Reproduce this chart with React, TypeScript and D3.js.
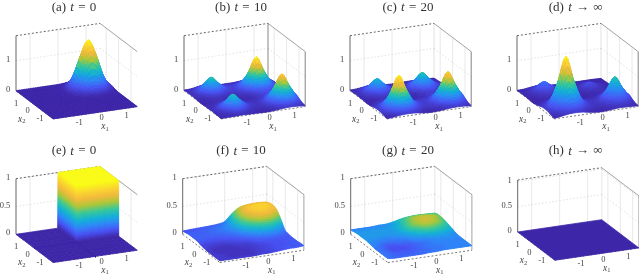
import React from 'react'
import * as d3 from 'd3'

// axis coordinates of the grids, rows run from x2 = 1.5 down to x2 = -1.5
const gridX1 = [-1.5, -1.25, -1, -0.75, -0.5, -0.25, 0, 0.25, 0.5, 0.75, 1, 1.25, 1.5]
const gridX2 = [1.5, 1.25, 1, 0.75, 0.5, 0.25, 0, -0.25, -0.5, -0.75, -1, -1.25, -1.5]
const blockX1 = [-1.5, -0.01, 0, 1.5]
const blockX2 = [1.5, 0, -0.01, -1.5]
const flatX = [-1.5, 1.5]
const axisTicks = [-1, 0, 1]

const surfaceA = [
  [0, 0, 0, 0, 0, 0, 0, .02, .05, .07, .05, .02, 0],
  [0, 0, 0, 0, 0, 0, .02, .10, .29, .40, .29, .10, .02],
  [0, 0, 0, 0, 0, .01, .05, .29, .81, 1.15, .81, .29, .05],
  [0, 0, 0, 0, 0, .01, .07, .40, 1.15, 1.62, 1.15, .40, .07],
  [0, 0, 0, 0, 0, .01, .05, .29, .81, 1.15, .81, .29, .05],
  [0, 0, 0, 0, 0, 0, .02, .10, .29, .40, .29, .10, .02],
  [0, 0, 0, 0, 0, 0, 0, .02, .05, .07, .05, .02, 0],
  [0, 0, 0, 0, 0, 0, 0, 0, 0, .01, 0, 0, 0],
  [0, 0, 0, 0, 0, 0, 0, 0, 0, 0, 0, 0, 0],
  [0, 0, 0, 0, 0, 0, 0, 0, 0, 0, 0, 0, 0],
  [0, 0, 0, 0, 0, 0, 0, 0, 0, 0, 0, 0, 0],
  [0, 0, 0, 0, 0, 0, 0, 0, 0, 0, 0, 0, 0],
  [0, 0, 0, 0, 0, 0, 0, 0, 0, 0, 0, 0, 0],
]
const surfaceB = [
  [.02, .03, .07, .10, .07, .03, .03, .03, .05, .06, .05, .03, .01],
  [.03, .07, .17, .28, .17, .08, .06, .07, .14, .21, .14, .06, .03],
  [.03, .10, .28, .50, .28, .12, .08, .15, .36, .59, .36, .14, .05],
  [.03, .07, .17, .28, .17, .09, .09, .22, .59, 1.06, .59, .21, .06],
  [.02, .03, .07, .10, .07, .05, .07, .14, .36, .59, .36, .14, .05],
  [.01, .02, .03, .04, .03, .03, .04, .06, .14, .21, .16, .08, .04],
  [.01, .02, .03, .04, .03, .02, .02, .03, .08, .11, .11, .08, .04],
  [.02, .03, .06, .10, .06, .03, .02, .03, .06, .13, .18, .12, .06],
  [.02, .06, .16, .27, .16, .06, .04, .05, .12, .31, .52, .31, .12],
  [.03, .10, .27, .48, .27, .10, .05, .06, .18, .52, .92, .52, .18],
  [.02, .06, .16, .27, .16, .06, .04, .05, .12, .31, .52, .31, .12],
  [.02, .03, .06, .10, .06, .03, .02, .03, .06, .13, .18, .12, .06],
  [.01, .02, .02, .03, .02, .02, .01, .01, .03, .05, .06, .05, .03],
]
const surfaceC = [
  [.02, .03, .06, .09, .06, .03, .02, .02, .03, .03, .03, .02, .01],
  [.02, .06, .15, .25, .15, .06, .04, .03, .07, .11, .07, .03, .02],
  [.03, .09, .25, .45, .25, .09, .05, .07, .18, .30, .18, .07, .03],
  [.02, .06, .15, .25, .15, .06, .05, .11, .30, .53, .30, .11, .03],
  [.02, .03, .06, .09, .06, .03, .04, .07, .18, .30, .18, .07, .03],
  [.01, .01, .03, .05, .03, .01, .02, .03, .07, .11, .09, .04, .02],
  [.01, .03, .06, .07, .06, .03, .01, .02, .05, .08, .08, .06, .03],
  [.03, .07, .15, .22, .15, .07, .03, .04, .06, .13, .20, .13, .06],
  [.06, .15, .38, .63, .38, .15, .08, .07, .13, .34, .56, .34, .13],
  [.07, .22, .63, 1.12, .63, .22, .09, .08, .20, .56, 1.0, .56, .20],
  [.06, .15, .38, .63, .38, .15, .08, .07, .13, .34, .56, .34, .13],
  [.03, .07, .15, .22, .15, .07, .03, .04, .06, .13, .20, .13, .06],
  [.01, .03, .06, .07, .06, .03, .01, .01, .03, .05, .06, .05, .03],
]
const surfaceD = [
  [.01, .02, .05, .07, .05, .02, .01, .01, .01, .01, .01, .01, 0],
  [.02, .05, .12, .20, .12, .05, .02, .01, .03, .04, .03, .01, 0],
  [.02, .07, .20, .35, .20, .07, .03, .03, .07, .11, .07, .03, .01],
  [.02, .05, .12, .20, .12, .05, .03, .04, .11, .20, .11, .04, .01],
  [.01, .02, .05, .07, .05, .02, .01, .03, .07, .11, .07, .03, .01],
  [0, .01, .03, .05, .03, .01, 0, .01, .03, .04, .05, .02, .01],
  [.02, .05, .09, .10, .09, .05, .02, .01, .03, .05, .05, .04, .03],
  [.05, .10, .23, .35, .23, .10, .05, .04, .05, .11, .17, .11, .05],
  [.09, .23, .60, .98, .60, .23, .11, .07, .11, .28, .46, .28, .11],
  [.10, .35, .98, 1.75, .98, .35, .12, .09, .17, .46, .83, .46, .17],
  [.09, .23, .60, .98, .60, .23, .11, .07, .11, .28, .46, .28, .11],
  [.05, .10, .23, .35, .23, .10, .05, .04, .05, .11, .17, .11, .05],
  [.02, .05, .09, .10, .09, .05, .02, .01, .03, .05, .05, .04, .03],
]
const surfaceE = [
  [0, 0, 1, 1],
  [0, 0, 1, 1],
  [0, 0, 0, 0],
  [0, 0, 0, 0],
]
const surfaceF = [
  [.06, .065, .07, .075, .08, .09, .12, .24, .33, .36, .37, .37, .36],
  [.07, .07, .075, .08, .09, .10, .15, .27, .36, .39, .40, .40, .38],
  [.08, .08, .08, .09, .10, .12, .17, .29, .38, .42, .43, .42, .39],
  [.08, .08, .08, .09, .10, .12, .17, .29, .38, .42, .43, .41, .37],
  [.08, .08, .08, .08, .09, .11, .15, .26, .35, .40, .41, .37, .30],
  [.07, .06, .06, .06, .07, .08, .12, .20, .28, .33, .33, .27, .20],
  [.05, .04, .04, .04, .05, .06, .08, .12, .17, .21, .20, .15, .10],
  [.04, .03, .02, .02, .03, .04, .05, .07, .10, .11, .11, .09, .08],
  [.03, .02, .02, .02, .02, .03, .03, .05, .06, .07, .07, .07, .07],
  [.03, .02, .02, .02, .02, .02, .03, .04, .05, .06, .06, .07, .07],
  [.03, .03, .02, .02, .02, .02, .03, .04, .05, .06, .06, .07, .07],
  [.03, .03, .02, .02, .02, .02, .03, .04, .05, .06, .07, .07, .08],
  [.03, .03, .03, .03, .03, .03, .04, .04, .05, .06, .07, .07, .08],
]
const surfaceG = [
  [.08, .08, .08, .08, .09, .09, .11, .14, .16, .17, .17, .165, .16],
  [.09, .09, .09, .09, .09, .10, .12, .16, .19, .20, .20, .19, .18],
  [.10, .10, .10, .10, .10, .11, .13, .17, .20, .22, .22, .21, .18],
  [.10, .10, .10, .10, .10, .11, .14, .18, .21, .225, .22, .20, .17],
  [.10, .10, .10, .10, .10, .11, .14, .18, .20, .22, .21, .19, .15],
  [.10, .09, .09, .08, .09, .10, .12, .15, .18, .19, .18, .16, .13],
  [.09, .08, .07, .07, .07, .08, .10, .12, .14, .15, .14, .13, .11],
  [.08, .07, .05, .05, .06, .06, .08, .09, .10, .11, .11, .10, .09],
  [.07, .06, .04, .04, .04, .05, .06, .07, .08, .09, .09, .09, .08],
  [.07, .06, .04, .04, .04, .05, .06, .07, .08, .08, .08, .08, .08],
  [.07, .06, .05, .05, .05, .05, .06, .07, .07, .08, .08, .08, .08],
  [.07, .06, .05, .05, .05, .06, .06, .07, .07, .08, .08, .08, .08],
  [.07, .06, .06, .06, .06, .06, .07, .07, .08, .08, .08, .08, .08],
]
const surfaceH = [
  [0, 0],
  [0, 0],
]

const parulaStops = [0, .125, .25, .375, .5, .625, .75, .875, 1]
const parulaColors = ['#3e26a8', '#4752f4', '#2d87f7', '#12b1d6', '#37c897', '#abc739', '#f2b93b', '#fad52f', '#f9fb15']

const floorU = { x: 28, y: -4.1 } // screen px per unit of x1
const floorV = { x: 12.4, y: 9.4 } // screen px per unit of x2 (towards the viewer)

const panels = [
  { label: '(a)', time: '0', xs: gridX1, ys: gridX2, z: surfaceA, ox: 16, oy: 90.7, zTop: 1.83, height: 55, zTicks: [0, 1], cMax: 1.62, title: [74, 6], right: 0, back: 0 },
  { label: '(b)', time: '10', xs: gridX1, ys: gridX2, z: surfaceB, ox: 184, oy: 90.7, zTop: 1.83, height: 55, zTicks: [0, 1], cMax: 1.06, title: [241, 6], right: .8, back: .8 },
  { label: '(c)', time: '20', xs: gridX1, ys: gridX2, z: surfaceC, ox: 350, oy: 90.7, zTop: 1.83, height: 55, zTicks: [0, 1], cMax: 1.12, title: [408, 6], right: .8, back: .2 },
  { label: '(d)', time: '∞', xs: gridX1, ys: gridX2, z: surfaceD, ox: 517, oy: 90.7, zTop: 1.83, height: 55, zTicks: [0, 1], cMax: 1.75, title: [575.7, 6], right: .8, back: .2 },
  { label: '(e)', time: '0', xs: blockX1, ys: blockX2, z: surfaceE, ox: 16, oy: 234.3, zTop: 1, height: 55.6, zTicks: [0, .5, 1], cMax: 1, title: [74, 149.7], right: 0, back: 0, stepped: true },
  { label: '(f)', time: '10', xs: gridX1, ys: gridX2, z: surfaceF, ox: 182.7, oy: 234.3, zTop: 1, height: 55.6, zTicks: [0, .5, 1], cMax: .5, title: [241, 149.7], right: .6, back: .15 },
  { label: '(g)', time: '20', xs: gridX1, ys: gridX2, z: surfaceG, ox: 350.7, oy: 234.3, zTop: 1, height: 55.6, zTicks: [0, .5, 1], cMax: .33, title: [408, 149.7], right: .6, back: .15 },
  { label: '(h)', time: '∞', xs: flatX, ys: flatX.slice().reverse(), z: surfaceH, ox: 517.7, oy: 232, zTop: 1.03, height: 52, zTicks: [0, .5, 1], cMax: 1, title: [575.7, 149.7], right: .6, back: .15 },
]

const catmull = (p0, p1, p2, p3, t) =>
  0.5 * (2 * p1 + (p2 - p0) * t + (2 * p0 - 5 * p1 + 4 * p2 - p3) * t * t + (3 * p1 - p0 - 3 * p2 + p3) * t * t * t)

// only subdivides the mesh between the values, for shading
function refineLine(line, steps, smooth) {
  const out = []
  for (let i = 0; i < line.length - 1; i++) {
    for (let k = 0; k < steps[i]; k++) {
      const t = k / steps[i]
      const v = smooth
        ? catmull(line[Math.max(i - 1, 0)], line[i], line[i + 1], line[Math.min(i + 2, line.length - 1)], t)
        : d3.interpolateNumber(line[i], line[i + 1])(t)
      out.push(v)
    }
  }
  out.push(line[line.length - 1])
  return out
}

const transpose = m => m[0].map((_, j) => m.map(row => row[j]))

function buildCells(p) {
  const smooth = p.xs.length > 4
  let stepsX, stepsY
  if (p.stepped) {
    stepsX = [6, 60, 6]
    stepsY = [6, 60, 6]
  } else {
    stepsX = p.xs.slice(1).map(() => (smooth ? 4 : 1))
    stepsY = p.ys.slice(1).map(() => (smooth ? 4 : 1))
  }
  const xs = refineLine(p.xs, stepsX, false)
  const ys = refineLine(p.ys, stepsY, false)
  const rows = p.z.map(r => refineLine(r, stepsX, smooth))
  const zz = transpose(transpose(rows).map(c => refineLine(c, stepsY, smooth)))

  const uScale = d3.scaleLinear().domain([-1.5, 1.5]).range([0, 3])
  const vScale = d3.scaleLinear().domain([1.5, -1.5]).range([0, 3])
  const zScale = d3.scaleLinear().domain([0, p.zTop]).range([0, -p.height])
  const colour = d3.scaleLinear().domain(parulaStops.map(s => s * p.cMax)).range(parulaColors).clamp(true)

  const project = (x1, x2, z) => [
    p.ox + uScale(x1) * floorU.x + vScale(x2) * floorV.x,
    p.oy + uScale(x1) * floorU.y + vScale(x2) * floorV.y + zScale(Math.max(z, 0)),
  ]
  const line = d3.line()
  const cells = []
  for (let i = 0; i < ys.length - 1; i++) {
    for (let j = 0; j < xs.length - 1; j++) {
      const mx = (xs[j] + xs[j + 1]) / 2
      const my = (ys[i] + ys[i + 1]) / 2
      // the corner of the block has no cell of its own, its two side faces meet there
      if (p.stepped && mx > -0.01 && mx < 0 && my > -0.01 && my < 0) continue
      const mean = (zz[i][j] + zz[i][j + 1] + zz[i + 1][j] + zz[i + 1][j + 1]) / 4
      cells.push({
        depth: uScale(mx) * floorU.y + vScale(my) * floorV.y,
        d: line([
          project(xs[j], ys[i], zz[i][j]),
          project(xs[j + 1], ys[i], zz[i][j + 1]),
          project(xs[j + 1], ys[i + 1], zz[i + 1][j + 1]),
          project(xs[j], ys[i + 1], zz[i + 1][j]),
        ]) + 'Z',
        fill: colour(Math.max(mean, 0)),
      })
    }
  }
  cells.sort((a, b) => a.depth - b.depth)
  return { cells, project }
}

const Sub = ({ name, sub, x, y }) => (
  <text x={x} y={y} textAnchor="middle" dominantBaseline="central" fontSize={9.5} fontStyle="italic" fill="#444">
    {name}
    <tspan dy={1.5} fontSize={6.5} fontStyle="normal">{sub}</tspan>
  </text>
)

function Panel({ p }) {
  const { cells, project } = buildCells(p)
  const seg = (a, b) => d3.line()([a, b])
  const far = 1.5
  const leftFloor = project(-far, far, 0)
  const backFloor = project(far, far, 0)
  const rightFloor = project(far, -far, 0)
  const frontFloor = project(-far, -far, 0)
  const leftTop = project(-far, far, p.zTop)
  const backTop = project(far, far, p.zTop)
  const rightTop = project(far, -far, p.zTop)
  const tickStyle = { fontSize: 8.5, fill: '#444', textAnchor: 'middle', dominantBaseline: 'central' }
  return (
    <g>
      <g fill="none">
        {axisTicks.map(t => (
          <path key={'a' + t} d={seg(project(t, far, 0), project(t, far, p.zTop))} stroke="#e2e2e2" strokeWidth={0.8} />
        ))}
        {axisTicks.map(t => (
          <path key={'b' + t} d={seg(project(far, t, 0), project(far, t, p.zTop))} stroke="#e2e2e2" strokeWidth={0.8} />
        ))}
        {p.zTicks.filter(t => t > 0).map(t => (
          <g key={'z' + t} stroke="#d4d4d4" strokeWidth={0.7} strokeDasharray="1.5 2">
            <path d={seg(project(-far, far, t), project(far, far, t))} />
            <path d={seg(project(far, far, t), project(far, -far, t))} />
          </g>
        ))}
        <path d={seg(leftFloor, leftTop)} stroke="#666" strokeWidth={1} />
        <path d={seg(leftTop, backTop)} stroke="#555" strokeWidth={0.9} strokeDasharray="2 2" />
        <path d={seg(backTop, rightTop)} stroke="#999" strokeWidth={0.9} />
        <path d={seg(backFloor, backTop)} stroke="#666" strokeOpacity={p.back} strokeWidth={1} />
        <path d={seg(rightFloor, rightTop)} stroke="#666" strokeOpacity={p.right} strokeWidth={1} />
        <path d={seg(leftFloor, frontFloor)} stroke="#555" strokeWidth={0.8} strokeDasharray="2 2" />
        <path d={seg(frontFloor, rightFloor)} stroke="#555" strokeWidth={0.8} strokeDasharray="2 2" />
      </g>
      {cells.map((c, i) => (
        <path key={i} d={c.d} fill={c.fill} stroke={c.fill} strokeWidth={0.8} strokeLinejoin="round" />
      ))}
      <text x={p.title[0]} y={p.title[1]} textAnchor="middle" dominantBaseline="central" fontSize={13} fill="#333" wordSpacing={1}>
        {p.label} <tspan fontStyle="italic">t</tspan> {p.time === '∞' ? '→' : '='} {p.time}
      </text>
      {p.zTicks.map(t => (
        <text key={t} x={p.ox - (t === .5 ? 11 : 8)} y={p.oy - 2 - (t / p.zTop) * p.height} {...tickStyle}>{t}</text>
      ))}
      <text x={p.ox} y={p.oy + 12} {...tickStyle}>1</text>
      <text x={p.ox + 11.7} y={p.oy + 19.5} {...tickStyle}>0</text>
      <text x={p.ox + 24} y={p.oy + 27.5} {...tickStyle}>-1</text>
      <text x={p.ox + 63.3} y={p.oy + 31} {...tickStyle}>-1</text>
      <text x={p.ox + 85.7} y={p.oy + 26.5} {...tickStyle}>0</text>
      <text x={p.ox + 110.7} y={p.oy + 24} {...tickStyle}>1</text>
      <Sub name="x" sub="2" x={p.ox + 5.7} y={p.oy + 28} />
      <Sub name="x" sub="1" x={p.ox + 89} y={p.oy + 35.5} />
    </g>
  )
}

export default function App() {
  return (
    <svg width={640} height={275} style={{ position: 'absolute', left: 0, top: 0 }} fontFamily="'Liberation Serif', serif">
      <defs>
        <filter id="soft" x="0" y="0" width="100%" height="100%">
          <feGaussianBlur stdDeviation="0.35" />
        </filter>
      </defs>
      <rect width={640} height={275} fill="#fff" />
      <g filter="url(#soft)">
        {panels.map(p => <Panel key={p.label} p={p} />)}
      </g>
    </svg>
  )
}
